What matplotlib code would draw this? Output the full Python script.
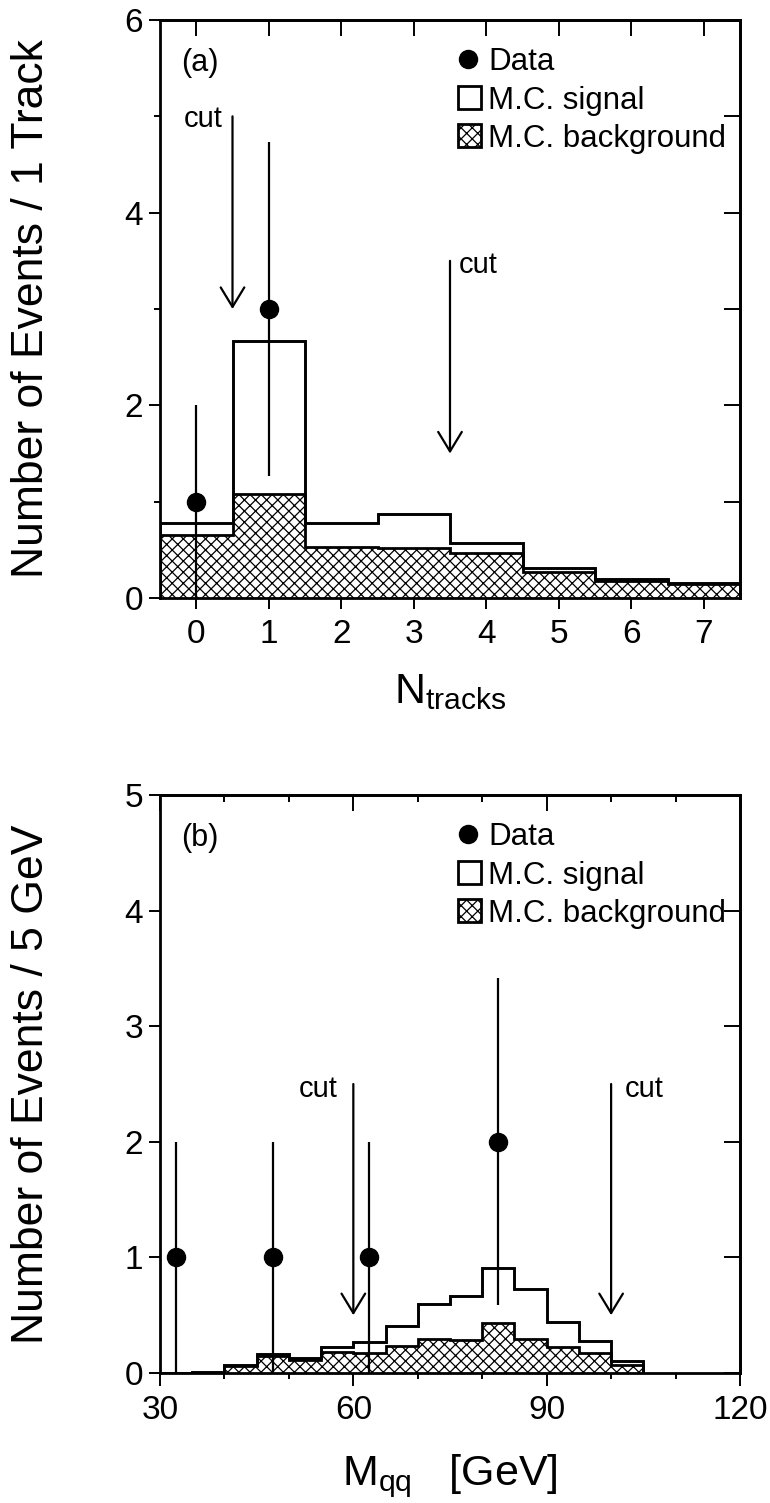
import numpy as np
import matplotlib
matplotlib.use("Agg")
import matplotlib.pyplot as plt
from matplotlib.patches import Rectangle
from matplotlib.ticker import FixedLocator

plt.rcParams["font.family"] = ["Liberation Sans", "DejaVu Sans"]
plt.rcParams["mathtext.fontset"] = "custom"
plt.rcParams["mathtext.rm"] = "Liberation Sans"
plt.rcParams["mathtext.it"] = "Liberation Sans"
plt.rcParams["mathtext.bf"] = "Liberation Sans:bold"
plt.rcParams["mathtext.default"] = "regular"
plt.rcParams["hatch.linewidth"] = 0.9

# ---- (a) charged-track multiplicity ----
ntrk_edges = np.arange(-0.5, 8.0, 1.0)
ntrk_bkg = [0.65, 1.08, 0.53, 0.52, 0.47, 0.27, 0.18, 0.15]
ntrk_sig = [0.13, 1.59, 0.25, 0.35, 0.10, 0.04, 0.02, 0.01]
ntrk_data_x = [0, 1]
ntrk_data_n = [1, 3]
ntrk_cuts = [0.5, 3.5]
ntrk_cut_top = [5.0, 3.5]
ntrk_cut_tip = [3.0, 1.5]

# ---- (b) di-jet invariant mass ----
mqq_edges = np.arange(30, 106, 5)
mqq_bkg = [0.0, 0.0, 0.06, 0.145, 0.11, 0.18, 0.17, 0.235, 0.29, 0.285,
           0.435, 0.29, 0.225, 0.17, 0.07]
mqq_sig = [0.0, 0.01, 0.012, 0.023, 0.018, 0.045, 0.10, 0.175, 0.31, 0.385,
           0.47, 0.435, 0.215, 0.105, 0.03]
mqq_data_x = [32.5, 47.5, 62.5, 82.5]
mqq_data_n = [1, 1, 1, 2]
mqq_cuts = [60, 100]
mqq_cut_top = [2.5, 2.5]
mqq_cut_tip = [0.5, 0.5]

LW_FRAME = 2.0
TICK_W = 1.4
HATCH = "xxx"


def draw_histos(ax, edges, bkg, sig, data_x, data_n):
    bkg = np.asarray(bkg, float)
    total = bkg + np.asarray(sig, float)
    ax.stairs(bkg, edges, fill=True, facecolor="white", edgecolor="black",
              hatch=HATCH, linewidth=2.0, zorder=2)
    ax.stairs(total, edges, color="black", linewidth=2.1, zorder=3)
    n = np.asarray(data_n, float)
    ax.errorbar(data_x, n, yerr=np.sqrt(n), fmt="o", ms=13, color="black",
                elinewidth=1.6, capsize=0, zorder=4, clip_on=False)


def draw_cut(ax, x, top, tip, label_x, label_y, ha):
    ax.annotate("", xy=(x, tip), xytext=(x, top),
                arrowprops=dict(arrowstyle="->,head_length=1.4,head_width=0.85",
                                lw=1.6, color="black", shrinkA=0, shrinkB=0,
                                mutation_scale=10))
    ax.text(label_x, label_y, "cut", ha=ha, va="baseline", fontsize=21)


def draw_key(ax, tag):
    t = ax.transAxes
    ax.text(0.068, 0.911, tag, transform=t, ha="center", va="baseline",
            fontsize=22)
    ax.plot([0.531], [0.932], "o", ms=13, color="black", transform=t,
            clip_on=False)
    ax.add_patch(Rectangle((0.514, 0.846), 0.040, 0.040, transform=t,
                           facecolor="white", edgecolor="black", lw=2.0))
    ax.add_patch(Rectangle((0.514, 0.781), 0.040, 0.039, transform=t,
                           facecolor="white", edgecolor="black", hatch=HATCH,
                           lw=2.0))
    for yb, s in zip([0.913, 0.846, 0.781],
                     ["Data", "M.C. signal", "M.C. background"]):
        ax.text(0.566, yb, s, transform=t, fontsize=22.5, va="baseline")


def frame_ticks(ax, xmaj, ymaj, xmin=None, ymin=None, xmaj_top=None,
                xmin_top=None, y_right=None):
    for sp in ax.spines.values():
        sp.set_linewidth(LW_FRAME)
    ax.set_xticks(xmaj)
    ax.set_yticks(ymaj)
    if xmin is not None:
        ax.xaxis.set_minor_locator(FixedLocator(xmin))
    if ymin is not None:
        ax.yaxis.set_minor_locator(FixedLocator(ymin))
    ax.tick_params(which="both", top=False, right=False, direction="out",
                   width=TICK_W)
    ax.tick_params(axis="x", which="major", length=8, pad=7, labelsize=24)
    ax.tick_params(axis="y", which="major", length=8, pad=4, labelsize=24)
    ax.tick_params(which="minor", length=4.3)

    secx = ax.secondary_xaxis("top")
    secx.set_xticks(xmaj_top if xmaj_top is not None else xmaj)
    if xmin_top is not None:
        secx.xaxis.set_minor_locator(FixedLocator(xmin_top))
    secx.tick_params(which="both", direction="in", width=TICK_W,
                     labeltop=False)
    secx.tick_params(which="major", length=11.5)
    secx.tick_params(which="minor", length=5)
    secy = ax.secondary_yaxis("right")
    secy.set_yticks(y_right if y_right is not None else ymaj)
    secy.tick_params(which="both", direction="in", width=TICK_W,
                     length=11.5, labelright=False)
    for sec in (secx, secy):
        for sp in sec.spines.values():
            sp.set_linewidth(LW_FRAME)


fig = plt.figure(figsize=(7.7, 15.03), dpi=100)
ax1 = fig.add_axes([160 / 770, 1 - 598 / 1503, 580 / 770, 578 / 1503])
ax2 = fig.add_axes([160 / 770, 1 - 1373 / 1503, 580 / 770, 578 / 1503])

# ---- panel (a) ----
draw_histos(ax1, ntrk_edges, ntrk_bkg, ntrk_sig, ntrk_data_x, ntrk_data_n)
ax1.set_xlim(-0.5, 7.5)
ax1.set_ylim(0, 6)
frame_ticks(ax1, list(range(8)), [0, 2, 4, 6], ymin=[1, 3, 5],
            y_right=list(range(7)))
draw_cut(ax1, ntrk_cuts[0], ntrk_cut_top[0], ntrk_cut_tip[0],
         ntrk_cuts[0] - 0.13, 4.89, "right")
draw_cut(ax1, ntrk_cuts[1], ntrk_cut_top[1], ntrk_cut_tip[1],
         ntrk_cuts[1] + 0.12, 3.37, "left")
draw_key(ax1, "(a)")
ax1.set_ylabel("Number of Events / 1 Track", fontsize=32, va="center")
ax1.yaxis.set_label_coords(-0.222, 0.5)
ax1.set_xlabel(r"$N_{tracks}$", fontsize=31, va="baseline")
ax1.xaxis.set_label_coords(0.5, -0.182)

# ---- panel (b) ----
draw_histos(ax2, mqq_edges, mqq_bkg, mqq_sig, mqq_data_x, mqq_data_n)
ax2.set_xlim(30, 120)
ax2.set_ylim(0, 5)
frame_ticks(ax2, [30, 60, 90, 120], list(range(6)),
            xmin=[40, 50, 70, 80, 100, 110],
            xmaj_top=[30, 60, 90, 120], xmin_top=[40, 50, 70, 80, 100, 110])
ax2.tick_params(axis="x", which="major", length=9)
draw_cut(ax2, mqq_cuts[0], mqq_cut_top[0], mqq_cut_tip[0],
         mqq_cuts[0] - 2.5, 2.39, "right")
draw_cut(ax2, mqq_cuts[1], mqq_cut_top[1], mqq_cut_tip[1],
         mqq_cuts[1] + 2.1, 2.39, "left")
draw_key(ax2, "(b)")
ax2.set_ylabel("Number of Events / 5 GeV", fontsize=32, va="center")
ax2.yaxis.set_label_coords(-0.222, 0.5)
ax2.set_xlabel(r"$M_{qq}$   [GeV]", fontsize=31, va="baseline")
ax2.xaxis.set_label_coords(0.5, -0.194)

fig.savefig("out.png", dpi=100)
